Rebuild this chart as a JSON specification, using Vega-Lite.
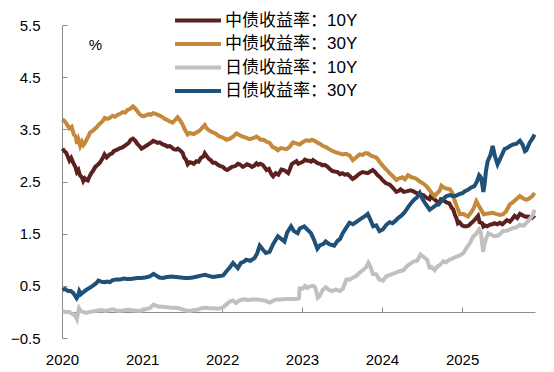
{
"$schema":"https://vega.github.io/schema/vega-lite/v6.json",
"width":473,"height":313,
"autosize":{"type":"none"},
"padding":{"left":62,"top":25,"right":19,"bottom":34},
"config":{"view":{"stroke":null},"font":"Liberation Sans, Noto Sans CJK SC"},
"datasets":{
"r":[{"d":"2020-01-03","v":3.13},{"d":"2020-01-12","v":3.08},{"d":"2020-01-20","v":3.05},{"d":"2020-02-04","v":2.90},{"d":"2020-02-12","v":2.95},{"d":"2020-02-21","v":2.86},{"d":"2020-03-02","v":2.78},{"d":"2020-03-09","v":2.68},{"d":"2020-03-16","v":2.72},{"d":"2020-03-23","v":2.62},{"d":"2020-04-01","v":2.58},{"d":"2020-04-07","v":2.51},{"d":"2020-04-14","v":2.56},{"d":"2020-04-21","v":2.53},{"d":"2020-04-28","v":2.52},{"d":"2020-05-06","v":2.60},{"d":"2020-05-14","v":2.66},{"d":"2020-05-21","v":2.70},{"d":"2020-06-01","v":2.78},{"d":"2020-06-12","v":2.82},{"d":"2020-06-22","v":2.86},{"d":"2020-07-05","v":2.95},{"d":"2020-07-13","v":3.02},{"d":"2020-07-23","v":2.96},{"d":"2020-08-06","v":3.02},{"d":"2020-08-17","v":3.04},{"d":"2020-08-24","v":3.08},{"d":"2020-09-04","v":3.10},{"d":"2020-09-12","v":3.12},{"d":"2020-09-22","v":3.14},{"d":"2020-10-01","v":3.15},{"d":"2020-10-12","v":3.18},{"d":"2020-10-22","v":3.21},{"d":"2020-11-01","v":3.24},{"d":"2020-11-10","v":3.30},{"d":"2020-11-20","v":3.32},{"d":"2020-12-01","v":3.28},{"d":"2020-12-10","v":3.22},{"d":"2020-12-20","v":3.18},{"d":"2020-12-29","v":3.13},{"d":"2021-01-07","v":3.15},{"d":"2021-01-18","v":3.18},{"d":"2021-02-02","v":3.22},{"d":"2021-02-12","v":3.25},{"d":"2021-02-20","v":3.28},{"d":"2021-03-04","v":3.26},{"d":"2021-03-12","v":3.24},{"d":"2021-03-22","v":3.25},{"d":"2021-04-05","v":3.21},{"d":"2021-04-14","v":3.20},{"d":"2021-04-26","v":3.17},{"d":"2021-05-07","v":3.18},{"d":"2021-05-17","v":3.15},{"d":"2021-05-25","v":3.12},{"d":"2021-06-05","v":3.11},{"d":"2021-06-13","v":3.13},{"d":"2021-06-25","v":3.09},{"d":"2021-07-05","v":3.05},{"d":"2021-07-12","v":2.96},{"d":"2021-07-20","v":2.92},{"d":"2021-07-28","v":2.83},{"d":"2021-08-06","v":2.87},{"d":"2021-08-15","v":2.86},{"d":"2021-08-25","v":2.84},{"d":"2021-09-06","v":2.89},{"d":"2021-09-16","v":2.88},{"d":"2021-09-26","v":2.95},{"d":"2021-10-08","v":2.98},{"d":"2021-10-14","v":3.04},{"d":"2021-10-22","v":2.99},{"d":"2021-11-02","v":2.93},{"d":"2021-11-10","v":2.91},{"d":"2021-11-20","v":2.86},{"d":"2021-12-01","v":2.86},{"d":"2021-12-13","v":2.82},{"d":"2021-12-22","v":2.80},{"d":"2022-01-05","v":2.78},{"d":"2022-01-14","v":2.74},{"d":"2022-01-24","v":2.72},{"d":"2022-02-04","v":2.75},{"d":"2022-02-15","v":2.78},{"d":"2022-02-25","v":2.79},{"d":"2022-03-04","v":2.80},{"d":"2022-03-14","v":2.84},{"d":"2022-03-22","v":2.83},{"d":"2022-04-06","v":2.78},{"d":"2022-04-14","v":2.80},{"d":"2022-04-25","v":2.83},{"d":"2022-05-07","v":2.81},{"d":"2022-05-18","v":2.78},{"d":"2022-05-27","v":2.80},{"d":"2022-06-07","v":2.85},{"d":"2022-06-15","v":2.82},{"d":"2022-06-24","v":2.84},{"d":"2022-07-05","v":2.82},{"d":"2022-07-13","v":2.78},{"d":"2022-07-23","v":2.72},{"d":"2022-08-03","v":2.74},{"d":"2022-08-14","v":2.64},{"d":"2022-08-22","v":2.60},{"d":"2022-09-03","v":2.66},{"d":"2022-09-15","v":2.63},{"d":"2022-09-29","v":2.73},{"d":"2022-10-10","v":2.72},{"d":"2022-10-18","v":2.70},{"d":"2022-10-30","v":2.66},{"d":"2022-11-06","v":2.73},{"d":"2022-11-15","v":2.83},{"d":"2022-11-25","v":2.86},{"d":"2022-12-07","v":2.89},{"d":"2022-12-15","v":2.84},{"d":"2022-12-26","v":2.86},{"d":"2023-01-06","v":2.88},{"d":"2023-01-14","v":2.92},{"d":"2023-01-25","v":2.90},{"d":"2023-02-02","v":2.90},{"d":"2023-02-12","v":2.88},{"d":"2023-02-20","v":2.91},{"d":"2023-03-03","v":2.88},{"d":"2023-03-13","v":2.85},{"d":"2023-03-24","v":2.84},{"d":"2023-04-05","v":2.81},{"d":"2023-04-15","v":2.82},{"d":"2023-04-28","v":2.78},{"d":"2023-05-08","v":2.74},{"d":"2023-05-20","v":2.70},{"d":"2023-06-01","v":2.69},{"d":"2023-06-13","v":2.68},{"d":"2023-06-23","v":2.64},{"d":"2023-07-05","v":2.66},{"d":"2023-07-15","v":2.63},{"d":"2023-07-28","v":2.64},{"d":"2023-08-08","v":2.60},{"d":"2023-08-20","v":2.55},{"d":"2023-09-01","v":2.58},{"d":"2023-09-12","v":2.62},{"d":"2023-09-24","v":2.66},{"d":"2023-10-05","v":2.68},{"d":"2023-10-16","v":2.67},{"d":"2023-10-28","v":2.66},{"d":"2023-11-09","v":2.69},{"d":"2023-11-20","v":2.72},{"d":"2023-12-01","v":2.68},{"d":"2023-12-13","v":2.62},{"d":"2023-12-24","v":2.58},{"d":"2024-01-05","v":2.52},{"d":"2024-01-18","v":2.47},{"d":"2024-02-06","v":2.44},{"d":"2024-02-20","v":2.38},{"d":"2024-03-07","v":2.30},{"d":"2024-03-18","v":2.32},{"d":"2024-03-26","v":2.35},{"d":"2024-04-10","v":2.30},{"d":"2024-04-22","v":2.31},{"d":"2024-05-11","v":2.33},{"d":"2024-05-24","v":2.31},{"d":"2024-06-07","v":2.28},{"d":"2024-06-18","v":2.27},{"d":"2024-06-26","v":2.25},{"d":"2024-07-08","v":2.24},{"d":"2024-07-22","v":2.19},{"d":"2024-08-05","v":2.16},{"d":"2024-08-11","v":2.22},{"d":"2024-08-22","v":2.18},{"d":"2024-09-07","v":2.12},{"d":"2024-09-18","v":2.08},{"d":"2024-09-26","v":2.16},{"d":"2024-10-08","v":2.14},{"d":"2024-10-22","v":2.10},{"d":"2024-11-04","v":2.08},{"d":"2024-11-14","v":2.00},{"d":"2024-11-22","v":1.96},{"d":"2024-11-29","v":1.86},{"d":"2024-12-06","v":1.80},{"d":"2024-12-13","v":1.70},{"d":"2024-12-20","v":1.72},{"d":"2025-01-01","v":1.66},{"d":"2025-01-10","v":1.64},{"d":"2025-01-22","v":1.64},{"d":"2025-02-02","v":1.66},{"d":"2025-02-11","v":1.70},{"d":"2025-02-22","v":1.74},{"d":"2025-03-07","v":1.80},{"d":"2025-03-15","v":1.84},{"d":"2025-03-22","v":1.72},{"d":"2025-04-03","v":1.70},{"d":"2025-04-08","v":1.64},{"d":"2025-04-14","v":1.66},{"d":"2025-04-25","v":1.64},{"d":"2025-05-07","v":1.67},{"d":"2025-05-18","v":1.68},{"d":"2025-05-29","v":1.70},{"d":"2025-06-10","v":1.68},{"d":"2025-06-22","v":1.71},{"d":"2025-07-04","v":1.68},{"d":"2025-07-14","v":1.72},{"d":"2025-07-25","v":1.76},{"d":"2025-08-07","v":1.73},{"d":"2025-08-18","v":1.78},{"d":"2025-08-29","v":1.84},{"d":"2025-09-10","v":1.80},{"d":"2025-09-22","v":1.88},{"d":"2025-10-01","v":1.86},{"d":"2025-10-10","v":1.84},{"d":"2025-10-20","v":1.82},{"d":"2025-10-28","v":1.83},{"d":"2025-11-08","v":1.82},{"d":"2025-11-16","v":1.80},{"d":"2025-11-24","v":1.83},{"d":"2025-11-28","v":1.85}],
"g":[{"d":"2020-01-03","v":3.69},{"d":"2020-01-12","v":3.66},{"d":"2020-01-20","v":3.62},{"d":"2020-02-04","v":3.52},{"d":"2020-02-14","v":3.55},{"d":"2020-02-24","v":3.40},{"d":"2020-03-04","v":3.36},{"d":"2020-03-10","v":3.22},{"d":"2020-03-16","v":3.30},{"d":"2020-03-24","v":3.18},{"d":"2020-04-01","v":3.26},{"d":"2020-04-08","v":3.20},{"d":"2020-04-15","v":3.24},{"d":"2020-04-22","v":3.30},{"d":"2020-04-30","v":3.36},{"d":"2020-05-08","v":3.44},{"d":"2020-05-18","v":3.46},{"d":"2020-05-28","v":3.50},{"d":"2020-06-05","v":3.53},{"d":"2020-06-15","v":3.58},{"d":"2020-06-25","v":3.62},{"d":"2020-07-05","v":3.66},{"d":"2020-07-14","v":3.72},{"d":"2020-07-27","v":3.70},{"d":"2020-08-07","v":3.72},{"d":"2020-08-19","v":3.76},{"d":"2020-08-30","v":3.74},{"d":"2020-09-12","v":3.78},{"d":"2020-09-22","v":3.80},{"d":"2020-10-05","v":3.83},{"d":"2020-10-15","v":3.82},{"d":"2020-10-26","v":3.87},{"d":"2020-11-06","v":3.89},{"d":"2020-11-20","v":3.94},{"d":"2020-11-30","v":3.90},{"d":"2020-12-08","v":3.86},{"d":"2020-12-18","v":3.80},{"d":"2020-12-29","v":3.76},{"d":"2021-01-08","v":3.75},{"d":"2021-01-18","v":3.77},{"d":"2021-02-01","v":3.79},{"d":"2021-02-10","v":3.78},{"d":"2021-02-20","v":3.81},{"d":"2021-03-02","v":3.80},{"d":"2021-03-12","v":3.78},{"d":"2021-03-24","v":3.76},{"d":"2021-04-05","v":3.73},{"d":"2021-04-15","v":3.70},{"d":"2021-04-26","v":3.68},{"d":"2021-05-08","v":3.65},{"d":"2021-05-20","v":3.63},{"d":"2021-06-01","v":3.68},{"d":"2021-06-12","v":3.73},{"d":"2021-06-22","v":3.68},{"d":"2021-07-04","v":3.60},{"d":"2021-07-12","v":3.52},{"d":"2021-07-20","v":3.46},{"d":"2021-07-28","v":3.40},{"d":"2021-08-06","v":3.43},{"d":"2021-08-15","v":3.42},{"d":"2021-08-25","v":3.41},{"d":"2021-09-06","v":3.44},{"d":"2021-09-16","v":3.46},{"d":"2021-09-26","v":3.50},{"d":"2021-10-05","v":3.54},{"d":"2021-10-14","v":3.58},{"d":"2021-10-22","v":3.52},{"d":"2021-11-02","v":3.48},{"d":"2021-11-12","v":3.46},{"d":"2021-11-21","v":3.44},{"d":"2021-12-02","v":3.42},{"d":"2021-12-13","v":3.38},{"d":"2021-12-24","v":3.36},{"d":"2022-01-06","v":3.34},{"d":"2022-01-20","v":3.30},{"d":"2022-02-06","v":3.32},{"d":"2022-02-20","v":3.36},{"d":"2022-03-07","v":3.42},{"d":"2022-03-20","v":3.39},{"d":"2022-04-05","v":3.36},{"d":"2022-04-20","v":3.34},{"d":"2022-05-07","v":3.31},{"d":"2022-05-22","v":3.33},{"d":"2022-06-07","v":3.36},{"d":"2022-06-18","v":3.33},{"d":"2022-06-26","v":3.30},{"d":"2022-07-10","v":3.30},{"d":"2022-07-25","v":3.26},{"d":"2022-08-06","v":3.24},{"d":"2022-08-20","v":3.16},{"d":"2022-09-01","v":3.14},{"d":"2022-09-13","v":3.10},{"d":"2022-09-26","v":3.14},{"d":"2022-10-10","v":3.13},{"d":"2022-10-22","v":3.12},{"d":"2022-11-05","v":3.16},{"d":"2022-11-21","v":3.25},{"d":"2022-12-05","v":3.23},{"d":"2022-12-21","v":3.21},{"d":"2023-01-06","v":3.26},{"d":"2023-01-20","v":3.29},{"d":"2023-02-05","v":3.28},{"d":"2023-02-15","v":3.30},{"d":"2023-02-28","v":3.28},{"d":"2023-03-15","v":3.24},{"d":"2023-03-25","v":3.22},{"d":"2023-04-07","v":3.18},{"d":"2023-04-20","v":3.16},{"d":"2023-05-05","v":3.12},{"d":"2023-05-22","v":3.08},{"d":"2023-06-05","v":3.06},{"d":"2023-06-20","v":3.04},{"d":"2023-07-06","v":3.02},{"d":"2023-07-20","v":3.03},{"d":"2023-08-06","v":3.00},{"d":"2023-08-21","v":2.91},{"d":"2023-09-05","v":2.96},{"d":"2023-09-21","v":3.02},{"d":"2023-10-05","v":3.01},{"d":"2023-10-15","v":3.04},{"d":"2023-10-28","v":3.04},{"d":"2023-11-10","v":3.00},{"d":"2023-11-22","v":2.98},{"d":"2023-12-06","v":2.96},{"d":"2023-12-14","v":2.92},{"d":"2023-12-21","v":2.88},{"d":"2024-01-05","v":2.80},{"d":"2024-01-21","v":2.73},{"d":"2024-02-05","v":2.66},{"d":"2024-02-20","v":2.60},{"d":"2024-03-07","v":2.53},{"d":"2024-03-20","v":2.56},{"d":"2024-04-04","v":2.58},{"d":"2024-04-15","v":2.54},{"d":"2024-04-29","v":2.62},{"d":"2024-05-15","v":2.58},{"d":"2024-05-28","v":2.57},{"d":"2024-06-07","v":2.55},{"d":"2024-06-22","v":2.50},{"d":"2024-07-08","v":2.46},{"d":"2024-07-22","v":2.41},{"d":"2024-08-05","v":2.34},{"d":"2024-08-15","v":2.28},{"d":"2024-08-29","v":2.22},{"d":"2024-09-10","v":2.28},{"d":"2024-09-20","v":2.32},{"d":"2024-09-29","v":2.42},{"d":"2024-10-12","v":2.38},{"d":"2024-10-25","v":2.36},{"d":"2024-11-07","v":2.35},{"d":"2024-11-18","v":2.28},{"d":"2024-11-29","v":2.12},{"d":"2024-12-08","v":2.02},{"d":"2024-12-16","v":1.94},{"d":"2024-12-22","v":1.87},{"d":"2025-01-05","v":1.88},{"d":"2025-01-15","v":1.86},{"d":"2025-01-28","v":1.83},{"d":"2025-02-10","v":1.90},{"d":"2025-02-22","v":1.98},{"d":"2025-03-07","v":2.12},{"d":"2025-03-16","v":2.05},{"d":"2025-03-26","v":1.98},{"d":"2025-04-03","v":1.92},{"d":"2025-04-10","v":1.87},{"d":"2025-04-22","v":1.88},{"d":"2025-05-07","v":1.89},{"d":"2025-05-21","v":1.90},{"d":"2025-06-05","v":1.88},{"d":"2025-06-22","v":1.86},{"d":"2025-07-06","v":1.87},{"d":"2025-07-20","v":1.92},{"d":"2025-08-07","v":2.06},{"d":"2025-08-20","v":2.10},{"d":"2025-09-05","v":2.16},{"d":"2025-09-22","v":2.22},{"d":"2025-10-05","v":2.18},{"d":"2025-10-22","v":2.15},{"d":"2025-11-05","v":2.18},{"d":"2025-11-18","v":2.22},{"d":"2025-11-28","v":2.28}],
"j":[{"d":"2020-01-03","v":0.01},{"d":"2020-01-20","v":0.00},{"d":"2020-02-03","v":0.00},{"d":"2020-02-14","v":-0.03},{"d":"2020-02-24","v":-0.05},{"d":"2020-03-04","v":-0.10},{"d":"2020-03-09","v":-0.14},{"d":"2020-03-14","v":-0.02},{"d":"2020-03-19","v":0.07},{"d":"2020-03-26","v":0.02},{"d":"2020-04-06","v":0.00},{"d":"2020-04-20","v":-0.02},{"d":"2020-05-06","v":0.00},{"d":"2020-05-20","v":0.01},{"d":"2020-06-05","v":0.02},{"d":"2020-06-20","v":0.03},{"d":"2020-07-06","v":0.03},{"d":"2020-07-22","v":0.02},{"d":"2020-08-06","v":0.04},{"d":"2020-08-22","v":0.05},{"d":"2020-09-07","v":0.02},{"d":"2020-09-25","v":0.02},{"d":"2020-10-10","v":0.03},{"d":"2020-10-28","v":0.04},{"d":"2020-11-20","v":0.03},{"d":"2020-12-10","v":0.02},{"d":"2020-12-28","v":0.02},{"d":"2021-01-14","v":0.05},{"d":"2021-02-05","v":0.07},{"d":"2021-02-22","v":0.14},{"d":"2021-03-05","v":0.12},{"d":"2021-03-20","v":0.10},{"d":"2021-04-05","v":0.10},{"d":"2021-04-25","v":0.09},{"d":"2021-05-15","v":0.08},{"d":"2021-06-04","v":0.08},{"d":"2021-06-25","v":0.06},{"d":"2021-07-15","v":0.03},{"d":"2021-08-05","v":0.02},{"d":"2021-08-22","v":0.03},{"d":"2021-09-10","v":0.04},{"d":"2021-09-28","v":0.07},{"d":"2021-10-15","v":0.08},{"d":"2021-11-05","v":0.07},{"d":"2021-11-25","v":0.07},{"d":"2021-12-15","v":0.06},{"d":"2022-01-06","v":0.09},{"d":"2022-01-20","v":0.14},{"d":"2022-02-06","v":0.20},{"d":"2022-02-20","v":0.22},{"d":"2022-03-05","v":0.17},{"d":"2022-03-22","v":0.22},{"d":"2022-04-10","v":0.24},{"d":"2022-05-01","v":0.23},{"d":"2022-05-20","v":0.24},{"d":"2022-06-10","v":0.24},{"d":"2022-06-25","v":0.23},{"d":"2022-07-15","v":0.22},{"d":"2022-08-06","v":0.18},{"d":"2022-08-25","v":0.22},{"d":"2022-09-10","v":0.24},{"d":"2022-09-28","v":0.24},{"d":"2022-10-22","v":0.25},{"d":"2022-11-10","v":0.25},{"d":"2022-12-07","v":0.25},{"d":"2022-12-18","v":0.26},{"d":"2022-12-21","v":0.45},{"d":"2023-01-05","v":0.45},{"d":"2023-01-15","v":0.50},{"d":"2023-01-25","v":0.46},{"d":"2023-02-06","v":0.49},{"d":"2023-02-20","v":0.50},{"d":"2023-03-01","v":0.48},{"d":"2023-03-07","v":0.40},{"d":"2023-03-14","v":0.27},{"d":"2023-03-22","v":0.30},{"d":"2023-04-05","v":0.42},{"d":"2023-04-20","v":0.47},{"d":"2023-05-05","v":0.42},{"d":"2023-05-20","v":0.40},{"d":"2023-06-05","v":0.43},{"d":"2023-06-22","v":0.40},{"d":"2023-07-06","v":0.44},{"d":"2023-07-23","v":0.62},{"d":"2023-08-08","v":0.62},{"d":"2023-08-22","v":0.66},{"d":"2023-09-03","v":0.68},{"d":"2023-09-18","v":0.74},{"d":"2023-10-05","v":0.80},{"d":"2023-10-20","v":0.85},{"d":"2023-10-31","v":0.94},{"d":"2023-11-10","v":0.86},{"d":"2023-11-20","v":0.73},{"d":"2023-12-06","v":0.72},{"d":"2023-12-20","v":0.62},{"d":"2024-01-06","v":0.60},{"d":"2024-01-20","v":0.68},{"d":"2024-02-06","v":0.71},{"d":"2024-02-20","v":0.73},{"d":"2024-03-08","v":0.76},{"d":"2024-03-22","v":0.78},{"d":"2024-04-08","v":0.80},{"d":"2024-04-25","v":0.88},{"d":"2024-05-12","v":0.93},{"d":"2024-05-27","v":0.97},{"d":"2024-06-10","v":0.98},{"d":"2024-06-25","v":1.10},{"d":"2024-07-10","v":1.05},{"d":"2024-07-25","v":1.00},{"d":"2024-08-06","v":0.85},{"d":"2024-08-15","v":0.86},{"d":"2024-08-29","v":0.80},{"d":"2024-09-10","v":0.87},{"d":"2024-09-22","v":0.90},{"d":"2024-10-07","v":0.97},{"d":"2024-10-20","v":0.95},{"d":"2024-11-05","v":1.00},{"d":"2024-11-22","v":1.03},{"d":"2024-12-06","v":1.06},{"d":"2024-12-20","v":1.08},{"d":"2025-01-07","v":1.13},{"d":"2025-01-20","v":1.22},{"d":"2025-02-06","v":1.32},{"d":"2025-02-20","v":1.44},{"d":"2025-03-07","v":1.50},{"d":"2025-03-20","v":1.58},{"d":"2025-03-28","v":1.52},{"d":"2025-04-07","v":1.15},{"d":"2025-04-14","v":1.30},{"d":"2025-04-20","v":1.40},{"d":"2025-05-01","v":1.51},{"d":"2025-05-15","v":1.48},{"d":"2025-05-29","v":1.45},{"d":"2025-06-12","v":1.46},{"d":"2025-06-26","v":1.50},{"d":"2025-07-06","v":1.55},{"d":"2025-07-20","v":1.55},{"d":"2025-08-06","v":1.58},{"d":"2025-08-22","v":1.61},{"d":"2025-09-05","v":1.62},{"d":"2025-09-22","v":1.67},{"d":"2025-10-08","v":1.65},{"d":"2025-10-20","v":1.70},{"d":"2025-10-29","v":1.74},{"d":"2025-11-10","v":1.80},{"d":"2025-11-20","v":1.86},{"d":"2025-11-28","v":1.96}],
"b":[{"d":"2020-01-03","v":0.42},{"d":"2020-01-15","v":0.44},{"d":"2020-01-28","v":0.40},{"d":"2020-02-10","v":0.40},{"d":"2020-02-22","v":0.36},{"d":"2020-03-02","v":0.30},{"d":"2020-03-08","v":0.26},{"d":"2020-03-14","v":0.30},{"d":"2020-03-20","v":0.40},{"d":"2020-03-28","v":0.34},{"d":"2020-04-08","v":0.38},{"d":"2020-04-20","v":0.42},{"d":"2020-05-06","v":0.46},{"d":"2020-05-20","v":0.50},{"d":"2020-06-05","v":0.55},{"d":"2020-06-15","v":0.60},{"d":"2020-06-28","v":0.58},{"d":"2020-07-12","v":0.57},{"d":"2020-07-25","v":0.58},{"d":"2020-08-06","v":0.57},{"d":"2020-08-20","v":0.61},{"d":"2020-09-05","v":0.62},{"d":"2020-09-21","v":0.62},{"d":"2020-10-08","v":0.64},{"d":"2020-10-25","v":0.63},{"d":"2020-11-10","v":0.63},{"d":"2020-11-25","v":0.64},{"d":"2020-12-10","v":0.65},{"d":"2020-12-28","v":0.65},{"d":"2021-01-15","v":0.66},{"d":"2021-02-05","v":0.68},{"d":"2021-02-22","v":0.73},{"d":"2021-03-05","v":0.70},{"d":"2021-03-20","v":0.66},{"d":"2021-04-05","v":0.65},{"d":"2021-04-25","v":0.67},{"d":"2021-05-15","v":0.68},{"d":"2021-06-04","v":0.67},{"d":"2021-06-25","v":0.66},{"d":"2021-07-15","v":0.65},{"d":"2021-08-01","v":0.65},{"d":"2021-08-20","v":0.66},{"d":"2021-09-10","v":0.68},{"d":"2021-10-01","v":0.70},{"d":"2021-10-15","v":0.71},{"d":"2021-11-01","v":0.69},{"d":"2021-11-20","v":0.67},{"d":"2021-12-05","v":0.68},{"d":"2021-12-22","v":0.69},{"d":"2022-01-06","v":0.70},{"d":"2022-01-21","v":0.78},{"d":"2022-02-05","v":0.85},{"d":"2022-02-20","v":0.94},{"d":"2022-03-05","v":0.88},{"d":"2022-03-14","v":0.84},{"d":"2022-03-28","v":0.94},{"d":"2022-04-10","v":0.96},{"d":"2022-04-21","v":1.00},{"d":"2022-05-10","v":0.98},{"d":"2022-05-29","v":1.03},{"d":"2022-06-10","v":1.12},{"d":"2022-06-22","v":1.27},{"d":"2022-07-05","v":1.20},{"d":"2022-07-20","v":1.13},{"d":"2022-08-06","v":1.15},{"d":"2022-08-22","v":1.30},{"d":"2022-09-13","v":1.45},{"d":"2022-09-28","v":1.40},{"d":"2022-10-13","v":1.35},{"d":"2022-10-25","v":1.52},{"d":"2022-11-12","v":1.64},{"d":"2022-11-25","v":1.55},{"d":"2022-12-12","v":1.51},{"d":"2022-12-22","v":1.60},{"d":"2023-01-11","v":1.64},{"d":"2023-01-25","v":1.58},{"d":"2023-02-11","v":1.51},{"d":"2023-02-25","v":1.38},{"d":"2023-03-12","v":1.21},{"d":"2023-03-25","v":1.28},{"d":"2023-04-08","v":1.30},{"d":"2023-04-19","v":1.35},{"d":"2023-05-05","v":1.30},{"d":"2023-05-28","v":1.27},{"d":"2023-06-12","v":1.36},{"d":"2023-06-24","v":1.40},{"d":"2023-07-06","v":1.51},{"d":"2023-07-20","v":1.60},{"d":"2023-08-06","v":1.71},{"d":"2023-08-22","v":1.68},{"d":"2023-09-05","v":1.72},{"d":"2023-09-21","v":1.77},{"d":"2023-10-10","v":1.82},{"d":"2023-10-28","v":1.88},{"d":"2023-11-10","v":1.76},{"d":"2023-11-22","v":1.64},{"d":"2023-12-06","v":1.66},{"d":"2023-12-21","v":1.55},{"d":"2024-01-05","v":1.58},{"d":"2024-01-21","v":1.67},{"d":"2024-02-05","v":1.72},{"d":"2024-02-18","v":1.70},{"d":"2024-03-01","v":1.74},{"d":"2024-03-15","v":1.80},{"d":"2024-03-28","v":1.84},{"d":"2024-04-12","v":1.90},{"d":"2024-04-28","v":2.00},{"d":"2024-05-12","v":2.08},{"d":"2024-05-27","v":2.15},{"d":"2024-06-10","v":2.20},{"d":"2024-06-22","v":2.28},{"d":"2024-07-05","v":2.16},{"d":"2024-07-20","v":2.06},{"d":"2024-08-06","v":1.96},{"d":"2024-08-20","v":2.00},{"d":"2024-09-02","v":2.04},{"d":"2024-09-13","v":2.06},{"d":"2024-09-28","v":2.12},{"d":"2024-10-10","v":2.18},{"d":"2024-10-22","v":2.22},{"d":"2024-11-08","v":2.24},{"d":"2024-11-22","v":2.22},{"d":"2024-12-06","v":2.23},{"d":"2024-12-20","v":2.26},{"d":"2025-01-05","v":2.28},{"d":"2025-01-12","v":2.31},{"d":"2025-01-28","v":2.34},{"d":"2025-02-10","v":2.38},{"d":"2025-02-26","v":2.41},{"d":"2025-03-10","v":2.50},{"d":"2025-03-20","v":2.62},{"d":"2025-03-28","v":2.58},{"d":"2025-04-03","v":2.45},{"d":"2025-04-08","v":2.30},{"d":"2025-04-14","v":2.45},{"d":"2025-04-20","v":2.70},{"d":"2025-04-28","v":2.89},{"d":"2025-05-10","v":3.00},{"d":"2025-05-21","v":3.18},{"d":"2025-05-30","v":3.00},{"d":"2025-06-12","v":2.83},{"d":"2025-06-22","v":2.92},{"d":"2025-07-05","v":3.04},{"d":"2025-07-14","v":3.12},{"d":"2025-07-25","v":3.14},{"d":"2025-08-08","v":3.18},{"d":"2025-08-22","v":3.21},{"d":"2025-09-05","v":3.22},{"d":"2025-09-22","v":3.28},{"d":"2025-10-05","v":3.20},{"d":"2025-10-15","v":3.08},{"d":"2025-10-22","v":3.10},{"d":"2025-11-05","v":3.24},{"d":"2025-11-18","v":3.32},{"d":"2025-11-28","v":3.40}]
},
"encoding":{
"x":{"field":"d","type":"temporal","scale":{"domain":["2020-01-01","2025-11-30"]},
 "axis":{"title":null,"grid":false,"tickCount":{"interval":"year","step":1},"format":"%Y","offset":-26,"tickSize":-5,"labelPadding":45,"domainColor":"#8c8c8c","tickColor":"#8c8c8c","labelFontSize":15,"labelColor":"#000000","labelFlush":false}},
"y":{"field":"v","type":"quantitative","scale":{"domain":[-0.5,5.5],"nice":false,"zero":false},
 "axis":{"title":"%","titleAngle":0,"titleAlign":"center","titleBaseline":"middle","titleX":33,"titleY":19,"titleFontSize":15,"titleFontWeight":"normal","titleColor":"#000000","values":[-0.5,0.5,1.5,2.5,3.5,4.5,5.5],"format":".1f","grid":false,"tickSize":-5,"labelPadding":27,"domainColor":"#8c8c8c","tickColor":"#8c8c8c","labelFontSize":15,"labelColor":"#000000"}}
},
"layer":[
{"data":{"name":"r"},"mark":{"type":"line","strokeWidth":4},"encoding":{"color":{"datum":"中债收益率：10Y","type":"nominal","scale":{"domain":["中债收益率：10Y","中债收益率：30Y","日债收益率：10Y","日债收益率：30Y"],"range":["#5C2020","#C4893A","#C0C0C0","#1F5078"]},"legend":{"title":null,"orient":"none","legendX":111,"legendY":-15,"symbolType":"stroke","symbolSize":2116,"symbolStrokeWidth":4,"labelFontSize":17,"labelColor":"#000000","clipHeight":21,"rowPadding":2.5,"labelOffset":2,"padding":0}}}},
{"data":{"name":"g"},"mark":{"type":"line","strokeWidth":4},"encoding":{"color":{"datum":"中债收益率：30Y","type":"nominal"}}},
{"data":{"name":"j"},"mark":{"type":"line","strokeWidth":4},"encoding":{"color":{"datum":"日债收益率：10Y","type":"nominal"}}},
{"data":{"name":"b"},"mark":{"type":"line","strokeWidth":4},"encoding":{"color":{"datum":"日债收益率：30Y","type":"nominal"}}}
]
}
